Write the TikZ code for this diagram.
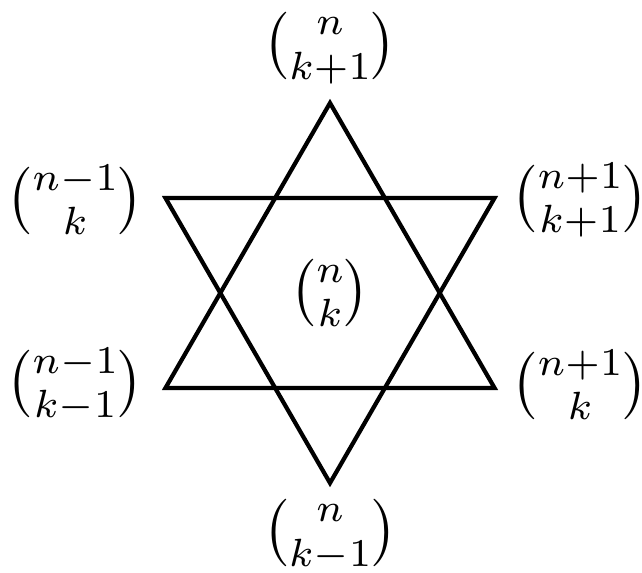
\documentclass[tikz,border=0pt]{standalone}
\usepackage{amsmath}
\usetikzlibrary{positioning}

\begin{document}
\begin{tikzpicture}[
    star/.style={draw=black, line width=1.2pt, line join=miter},
    coef/.style={inner sep=0pt, scale=1.6, transform shape}
]
\useasboundingbox (0,0) rectangle (6.42,5.72);

% hexagram corners around the centre
\coordinate (Mid) at (3.30,2.79);
\coordinate (Top) at ([shift={(90:1.9)}]Mid);
\coordinate (Bot) at ([shift={(270:1.9)}]Mid);
\coordinate (UpL) at ([shift={(150:1.9)}]Mid);
\coordinate (UpR) at ([shift={(30:1.9)}]Mid);
\coordinate (LoL) at ([shift={(210:1.9)}]Mid);
\coordinate (LoR) at ([shift={(330:1.9)}]Mid);

\draw[star] (Top) -- (LoL) -- (LoR) -- cycle;
\draw[star] (Bot) -- (UpL) -- (UpR) -- cycle;

\node[coef] (Centre) at (Mid) {$\binom{n}{k}$};
\node[coef] (North) at (3.30,5.24) {$\binom{n}{k+1}$};
\node[coef] (South) at (3.30,0.37) {$\binom{n}{k-1}$};
\node[coef] (NWest) at (0.75,3.72) {$\binom{n-1}{k}$};
\node[coef] (NEast) at (5.80,3.72) {$\binom{n+1}{k+1}$};
\node[coef] (SWest) at (0.75,1.87) {$\binom{n-1}{k-1}$};
\node[coef] (SEast) at (5.80,1.87) {$\binom{n+1}{k}$};

\end{tikzpicture}
\end{document}
